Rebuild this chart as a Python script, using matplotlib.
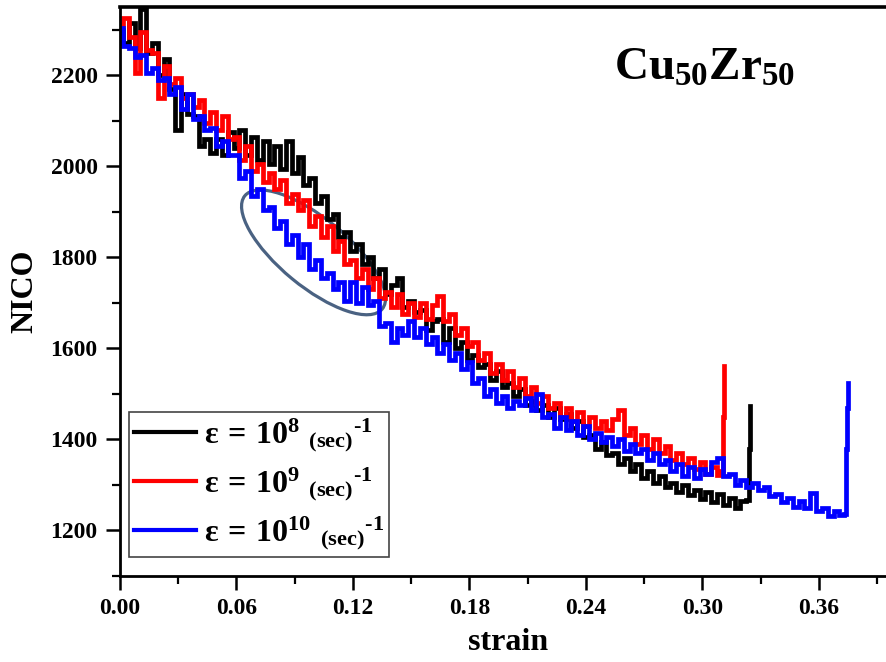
import numpy as np
import matplotlib
matplotlib.use('Agg')
import matplotlib.pyplot as plt
from matplotlib.patches import Ellipse
import matplotlib.transforms as mtransforms
from matplotlib.ticker import MultipleLocator, FormatStrFormatter

plt.rcParams['font.family'] = ['Liberation Serif', 'DejaVu Serif']
plt.rcParams['font.weight'] = 'bold'
plt.rcParams['mathtext.fontset'] = 'custom'
plt.rcParams['mathtext.rm'] = 'Liberation Serif:bold'
plt.rcParams['mathtext.it'] = 'Liberation Serif:bold'
plt.rcParams['mathtext.bf'] = 'Liberation Serif:bold'

# ---------------- data ----------------
STEP = 0.003  # strain sampling of the series below

black_y = [2300, 2270, 2315, 2260, 2345, 2250, 2270, 2200, 2235, 2170,
           2080, 2160, 2115, 2110, 2045, 2060, 2030, 2060, 2025, 2075,
           2040, 2080, 2025, 2065, 2015, 2055, 2005, 2045, 1995, 2055,
           1985, 2020, 1960, 1975, 1920, 1935, 1885, 1895, 1845, 1855,
           1815, 1830, 1785, 1800, 1755, 1775, 1720, 1740, 1755, 1690,
           1705, 1680, 1685, 1640, 1660, 1665, 1615, 1645, 1600, 1615,
           1575, 1585, 1560, 1565, 1530, 1550, 1515, 1525, 1495, 1510,
           1475, 1485, 1465, 1475, 1450, 1470, 1445, 1455, 1425, 1440,
           1405, 1410, 1380, 1395, 1365, 1370, 1345, 1360, 1330, 1345,
           1315, 1330, 1305, 1320, 1295, 1305, 1285, 1300, 1278, 1290,
           1270, 1285, 1262, 1280, 1255, 1272, 1250, 1265]
black_end_x = [0.3235, 0.3240, 0.3245]
black_end_y = [1268, 1380, 1474]

red_y = [2310, 2325, 2285, 2205, 2295, 2255, 2250, 2150, 2220, 2180,
         2195, 2150, 2160, 2130, 2145, 2095, 2120, 2080, 2110, 2060,
         2065, 2015, 2045, 1990, 2005, 1965, 1985, 1950, 1970, 1920,
         1940, 1905, 1925, 1870, 1890, 1845, 1870, 1815, 1835, 1785,
         1795, 1755, 1775, 1730, 1755, 1710, 1725, 1690, 1720, 1675,
         1700, 1670, 1700, 1665, 1695, 1715, 1660, 1675, 1630, 1645,
         1605, 1615, 1575, 1590, 1545, 1565, 1530, 1550, 1515, 1535,
         1495, 1515, 1480, 1495, 1470, 1480, 1450, 1470, 1440, 1460,
         1430, 1450, 1425, 1440, 1420, 1445, 1465, 1410, 1425, 1390,
         1410, 1380, 1400, 1370, 1385, 1355, 1370, 1345, 1360, 1335,
         1350, 1325, 1340, 1322]
red_end_x = [0.3105, 0.3108, 0.3110, 0.3112]
red_end_y = [1330, 1450, 1520, 1562]

blue_y = [2305, 2265, 2260, 2240, 2245, 2205, 2215, 2190, 2195, 2160,
          2175, 2125, 2160, 2105, 2110, 2080, 2085, 2045, 2055, 2025,
          2025, 1975, 1990, 1935, 1950, 1905, 1910, 1865, 1880, 1830,
          1850, 1800, 1830, 1775, 1795, 1755, 1765, 1730, 1745, 1705,
          1745, 1700, 1735, 1695, 1705, 1650, 1655, 1615, 1645, 1630,
          1660, 1625, 1645, 1610, 1625, 1590, 1610, 1575, 1590, 1555,
          1570, 1525, 1535, 1495, 1510, 1480, 1495, 1470, 1485, 1475,
          1490, 1465, 1500, 1450, 1455, 1425, 1450, 1420, 1440, 1410,
          1430, 1400, 1415, 1395, 1405, 1385, 1400, 1375, 1390, 1370,
          1380, 1355, 1370, 1345, 1355, 1330, 1345, 1320, 1340, 1315,
          1335, 1325, 1350, 1360, 1320, 1325, 1300, 1312, 1295, 1305,
          1290, 1295, 1275, 1280, 1262, 1272, 1252, 1265, 1250, 1282,
          1242, 1250, 1232, 1242, 1235]
blue_end_x = [0.3735, 0.3740, 0.3745, 0.3750]
blue_end_y = [1236, 1380, 1470, 1525]

labels = [r'$ε\,=\,10^{8}\ {}_{(sec)}{}^{\text{-1}}$',
          r'$ε\,=\,10^{9}\ {}_{(sec)}{}^{\text{-1}}$',
          r'$ε\,=\,10^{10}\ {}_{(sec)}{}^{\text{-1}}$']
colors = ['#000000', '#ff0000', '#0000ff']
title_text = r'$Cu_{50}Zr_{50}$'
xticks = [0.00, 0.06, 0.12, 0.18, 0.24, 0.30, 0.36]
yticks = [1200, 1400, 1600, 1800, 2000, 2200]


def series(y, end_x, end_y):
    x = list(np.arange(len(y)) * STEP) + end_x
    return np.array(x), np.array(list(y) + end_y)


fig = plt.figure(figsize=(8.86, 6.62), dpi=100)
ax = fig.add_axes([0.1354, 0.1299, 0.8766, 0.8595])

for (y, ex, ey), c, lab in zip([(black_y, black_end_x, black_end_y),
                                (red_y, red_end_x, red_end_y),
                                (blue_y, blue_end_x, blue_end_y)],
                               colors, labels):
    xs, ys = series(y, ex, ey)
    ax.plot(xs, ys, color=c, lw=3.4, label=lab, drawstyle='steps-mid',
            solid_joinstyle='miter')

ax.set_xlim(0, 0.40)
ax.set_ylim(1100, 2350)
ax.set_xticks(xticks)
ax.set_yticks(yticks)
ax.xaxis.set_minor_locator(MultipleLocator(0.03))
ax.yaxis.set_minor_locator(MultipleLocator(100))
ax.xaxis.set_major_formatter(FormatStrFormatter('%.2f'))
ax.tick_params(which='major', direction='out', length=10, width=1.8,
               labelsize=17, pad=6)
ax.tick_params(which='minor', direction='out', length=6, width=1.6)
ax.tick_params(top=False, right=False, which='both')
for lab in ax.get_xticklabels() + ax.get_yticklabels():
    lab.set_fontweight('bold')
for s in ['left', 'bottom']:
    ax.spines[s].set_linewidth(2.0)
ax.spines['top'].set_linewidth(2.6)
ax.spines['right'].set_linewidth(2.0)

ax.set_xlabel('strain', fontsize=23, fontweight='bold', labelpad=6)
ax.set_ylabel('NICO', fontsize=23, fontweight='bold', labelpad=8)

ax.text(0.636, 0.872, title_text, transform=ax.transAxes, fontsize=34,
        ha='left', va='baseline')

# annotation ellipse (drawn in inches, centred on a data point)
trans = fig.dpi_scale_trans + mtransforms.ScaledTranslation(0.0997, 1811, ax.transData)
ell = Ellipse((0, 0), 1.78, 0.68, angle=-39.5, fill=False,
              edgecolor='#4a6282', lw=2.3, transform=trans)
ax.add_patch(ell)

leg = ax.legend(loc='lower left', bbox_to_anchor=(0.0116, 0.0334),
                borderaxespad=0, fontsize=23, handlelength=1.95,
                handletextpad=0.25, borderpad=0.15, labelspacing=0.35,
                fancybox=False, framealpha=1)
leg.get_frame().set_edgecolor('#444444')
leg.get_frame().set_linewidth(1.2)
for line in leg.get_lines():
    line.set_linewidth(3.0)

fig.savefig('out.png', dpi=100)
